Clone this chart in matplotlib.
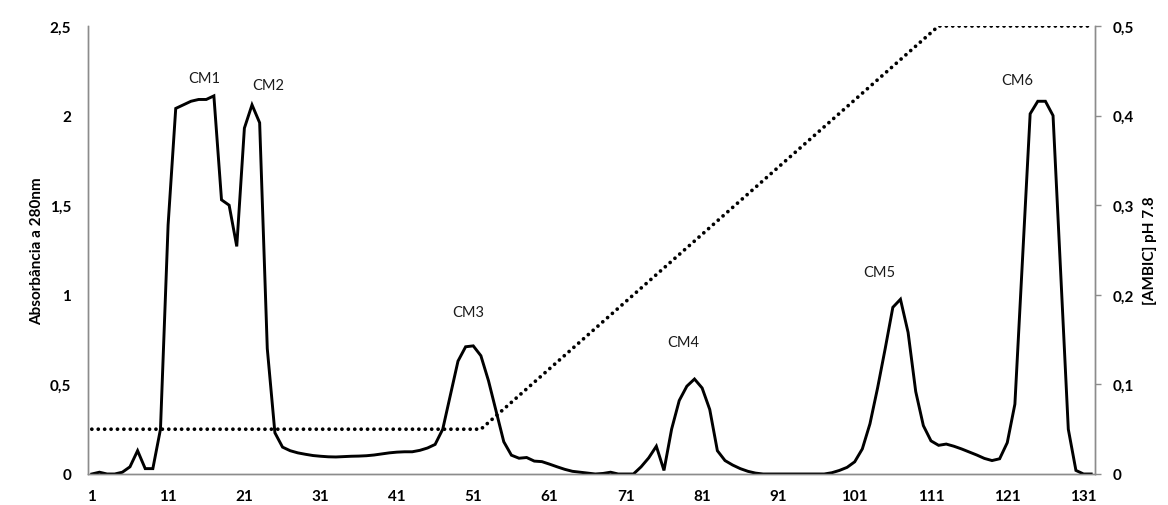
import matplotlib
matplotlib.use("Agg")
import matplotlib.pyplot as plt
import numpy as np

plt.rcParams['font.family'] = ['Lato', 'DejaVu Sans']

# Fraction numbers (x categories)
fractions = list(range(1, 133))

# Absorbance at 280 nm per fraction
absorbance = [
    0.0, 0.01, 0.0, 0.0, 0.01, 0.04, 0.13, 0.03, 0.03, 0.25,      # 1-10
    1.39, 2.04, 2.06, 2.08, 2.09, 2.09, 2.11, 1.53, 1.50, 1.27,   # 11-20
    1.93, 2.06, 1.96, 0.70, 0.23, 0.15, 0.13, 0.118, 0.11, 0.103, # 21-30
    0.099, 0.096, 0.095, 0.097, 0.099, 0.10, 0.102, 0.106, 0.112, 0.118,  # 31-40
    0.122, 0.124, 0.124, 0.132, 0.145, 0.165, 0.25, 0.44, 0.63, 0.71,     # 41-50
    0.715, 0.66, 0.52, 0.35, 0.18, 0.105, 0.088, 0.092, 0.072, 0.069,     # 51-60
    0.055, 0.04, 0.026, 0.015, 0.01, 0.005, 0.0, 0.003, 0.01, 0.0,        # 61-70
    0.0, 0.0, 0.04, 0.09, 0.155, 0.02, 0.25, 0.41, 0.49, 0.53,            # 71-80
    0.48, 0.36, 0.13, 0.075, 0.05, 0.03, 0.015, 0.005, 0.0, 0.0,          # 81-90
    0.0, 0.0, 0.0, 0.0, 0.0, 0.0, 0.0, 0.007, 0.02, 0.037,                # 91-100
    0.068, 0.14, 0.28, 0.48, 0.70, 0.93, 0.975, 0.79, 0.46, 0.27,         # 101-110
    0.185, 0.16, 0.167, 0.155, 0.14, 0.123, 0.106, 0.087, 0.075, 0.085,   # 111-120
    0.175, 0.39, 1.2, 2.01, 2.08, 2.08, 2.0, 1.12, 0.25, 0.02,            # 121-130
    0.0, 0.0,                                                             # 131-132
]

# AMBIC gradient (right axis) breakpoints: fraction -> concentration
gradient_fraction = [1, 52, 112, 132]
gradient_conc = [0.05, 0.05, 0.5, 0.5]

# Peak labels: name, fraction position, absorbance position
peak_names = ['CM1', 'CM2', 'CM3', 'CM4', 'CM5', 'CM6']
peak_x = [15.7, 24.1, 50.3, 78.5, 104.2, 122.3]
peak_y = [2.21, 2.17, 0.905, 0.735, 1.125, 2.20]

xtick_values = list(range(1, 132, 10))
left_ticks = [0, 0.5, 1, 1.5, 2, 2.5]
left_ticklabels = ['0', '0,5', '1', '1,5', '2', '2,5']
right_ticks = [0, 0.1, 0.2, 0.3, 0.4, 0.5]
right_ticklabels = ['0', '0,1', '0,2', '0,3', '0,4', '0,5']

W, H = 1168, 506
fig = plt.figure(figsize=(W / 100, H / 100), dpi=100)
ax = fig.add_axes([88 / W, 31 / H, 1007 / W, 448 / H])
ax2 = ax.twinx()

spine_col = '#8c8c8c'

ax.plot(fractions, absorbance, color='black', lw=2.1, solid_joinstyle='miter', zorder=3)
ax2.plot(gradient_fraction, gradient_conc, color='black', lw=2.7,
         linestyle=(0, (0.01, 1.7)), dash_capstyle='round', zorder=2)

ax.set_xlim(0.5, 132.5)
ax.set_ylim(0, 2.5)
ax2.set_ylim(0, 0.5)

ax.set_xticks(xtick_values)
ax.set_xticklabels([str(v) for v in xtick_values], fontsize=11, fontweight='bold')
ax.set_yticks(left_ticks)
ax.set_yticklabels(left_ticklabels, fontsize=11, fontweight='bold')
ax2.set_yticks(right_ticks)
ax2.set_yticklabels(right_ticklabels, fontsize=11, fontweight='bold')

ax.tick_params(axis='x', length=0, pad=11)
ax.tick_params(axis='y', length=0, pad=12)
ax2.tick_params(axis='y', length=4, width=1, color=spine_col, pad=9)

for a in (ax, ax2):
    a.spines['top'].set_visible(False)
    for s in ('left', 'right', 'bottom'):
        a.spines[s].set_color(spine_col)
        a.spines[s].set_linewidth(1.0)

ax.set_ylabel('Absorbância a 280nm', fontsize=11, fontweight='bold', labelpad=4)
ax2.set_ylabel('[AMBIC] pH 7.8', fontsize=11, fontweight='bold', labelpad=6)

for name, px, py in zip(peak_names, peak_x, peak_y):
    ax.text(px, py, name, fontsize=10.5, ha='center', va='center', color='#1a1a1a')

fig.savefig('out.png', dpi=100, facecolor='white')
